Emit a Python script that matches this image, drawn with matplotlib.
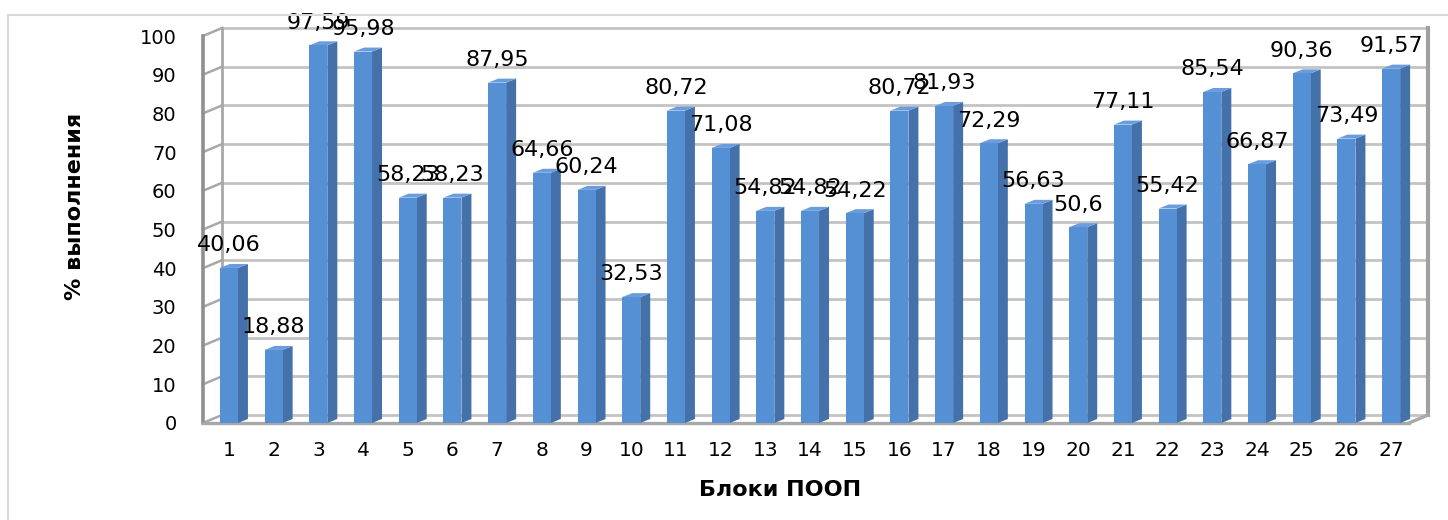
import matplotlib.pyplot as plt
from matplotlib.patches import Rectangle, Polygon

# Block numbers and completion percentages
blocks = list(range(1, 28))
percent = [40.06, 18.88, 97.59, 95.98, 58.23, 58.23, 87.95, 64.66, 60.24, 32.53,
           80.72, 71.08, 54.82, 54.82, 54.22, 80.72, 81.93, 72.29, 56.63, 50.6,
           77.11, 55.42, 85.54, 66.87, 90.36, 73.49, 91.57]
y_ticks = list(range(0, 101, 10))

W, H = 1448, 520
fig = plt.figure(figsize=(W / 100, H / 100), dpi=100)
plt.rcParams['font.family'] = ['DejaVu Sans']

# front plane of the pseudo-3D box, in pixels
left_px, right_px, base_px, top_px = 203, 1409, 423, 36
x0, x1 = 0.42, 27.4
ax = fig.add_axes([left_px / W, (H - base_px) / H,
                   (right_px - left_px) / W, (base_px - top_px) / H])
ax.set_xlim(x0, x1)
ax.set_ylim(0, 100)
for s in ax.spines.values():
    s.set_visible(False)

# pixel -> data unit conversion
px_x = (x1 - x0) / (right_px - left_px)
px_y = 100 / (base_px - top_px)

# depth of the back wall and of each bar
wdx, wdy = 19 * px_x, 8 * px_y
bdx, bdy = 10 * px_x, 4 * px_y
bw = 18 * px_x

grid_c = '#c3c3c3'
edge_c = '#a8a8a8'

# back wall gridlines and left wall diagonals
for v in y_ticks:
    ax.plot([x0 + wdx, x1 + wdx], [v + wdy, v + wdy], color=grid_c, lw=2, clip_on=False, zorder=1)
    ax.plot([x0, x0 + wdx], [v, v + wdy], color=edge_c, lw=1.8, clip_on=False, zorder=1)

# box edges
ax.plot([x0, x0], [0, 100], color='#8f8f8f', lw=2.6, clip_on=False, zorder=2)
ax.plot([x0 + wdx, x0 + wdx], [wdy, 100 + wdy], color=edge_c, lw=2, clip_on=False, zorder=1)
ax.plot([x1 + wdx, x1 + wdx], [wdy, 100 + wdy], color='#a0a0a0', lw=3, clip_on=False, zorder=1)
ax.plot([x0, x1], [0, 0], color=edge_c, lw=2.4, clip_on=False, zorder=2)
ax.plot([x1, x1 + wdx], [0, wdy], color=edge_c, lw=2.4, clip_on=False, zorder=2)

# bars: front face, side face and top
for x, v in zip(blocks, percent):
    xl, xr = x - bw / 2, x + bw / 2
    ax.add_patch(Polygon([(xr, 0), (xr + bdx, bdy), (xr + bdx, v + bdy), (xr, v)],
                         closed=True, facecolor='#4471aa', edgecolor='none', zorder=3, clip_on=False))
    ax.add_patch(Polygon([(xl, v), (xr, v), (xr + bdx, v + bdy), (xl + bdx, v + bdy)],
                         closed=True, facecolor='#6a9ddd', edgecolor='none', zorder=3, clip_on=False))
    ax.add_patch(Rectangle((xl, 0), bw, v, facecolor='#558fd4', edgecolor='none', zorder=4, clip_on=False))

# value labels with decimal comma
for x, v in zip(blocks, percent):
    ax.annotate(str(v).replace('.', ','), (x, v), xytext=(0, 12), textcoords='offset points',
                ha='center', va='baseline', fontsize=16, color='black', zorder=10,
                annotation_clip=False)

ax.set_xticks(blocks)
ax.set_xticklabels([str(b) for b in blocks])
ax.set_yticks(y_ticks)
ax.tick_params(axis='x', length=0, pad=13, labelsize=14.5)
ax.tick_params(axis='y', length=0, pad=19, labelsize=14)

fig.text(75 / W, 1 - 206 / H, '% выполнения', rotation=90, ha='center', va='center',
         fontsize=16, fontweight='bold')
fig.text(780 / W, 1 - 490 / H, 'Блоки ПООП', ha='center', va='center',
         fontsize=16, fontweight='bold')

# chart area border
fig.add_artist(plt.Line2D([8 / W, 8 / W], [0, 1 - 15 / H], color='#d9d9d9', lw=1.5))
fig.add_artist(plt.Line2D([8 / W, 1], [1 - 15 / H, 1 - 15 / H], color='#d9d9d9', lw=1.5))

fig.savefig('out.png', dpi=100)
